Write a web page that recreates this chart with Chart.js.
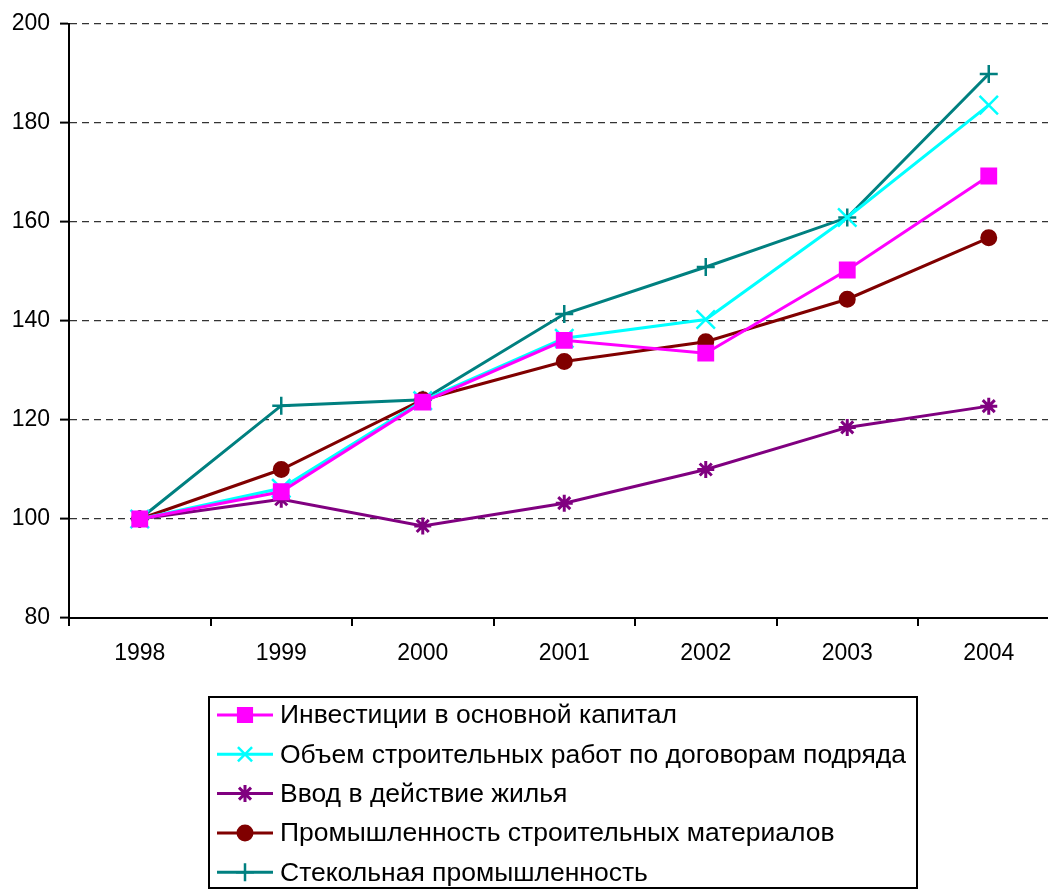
<!DOCTYPE html>
<html>
<head>
<meta charset="utf-8">
<script src="https://cdn.jsdelivr.net/npm/chart.js@4/dist/chart.umd.min.js"></script>
<style>
  html, body { margin: 0; padding: 0; background: #fff; overflow: hidden; }
  #wrap { width: 1075px; height: 891px; }
</style>
</head>
<body>
<div id="wrap"><canvas id="chart" width="1075" height="891"></canvas></div>
<script>
const years = ['1998', '1999', '2000', '2001', '2002', '2003', '2004'];
const yTicks = [80, 100, 120, 140, 160, 180, 200];

const investments = [100, 105.5, 123.6, 136.1, 133.5, 150.3, 169.3];
const constructionWorks = [100, 106.2, 123.9, 136.5, 140.3, 160.9, 183.6];
const housing = [100, 104.0, 98.6, 103.2, 110.0, 118.5, 122.8];
const buildingMaterials = [100, 110.0, 124.1, 131.8, 135.8, 144.4, 156.8];
const glassIndustry = [100, 122.9, 124.1, 141.4, 150.9, 160.9, 189.9];

const FONT = 'Arial, "Liberation Sans", sans-serif';

// рамка легенды внизу, как в оригинале
const boxLegend = {
  id: 'boxLegend',
  afterDraw(chart) {
    const ctx = chart.ctx;
    const left = 209, top = 697, width = 708, height = 191;
    ctx.save();
    ctx.strokeStyle = '#000';
    ctx.lineWidth = 2;
    ctx.strokeRect(left, top, width, height);
    ctx.font = '26.5px ' + FONT;
    ctx.textBaseline = 'middle';
    chart.data.datasets.forEach((ds, i) => {
      const y = 715 + i * 39.3;
      ctx.strokeStyle = ds.borderColor;
      ctx.lineWidth = 3;
      ctx.beginPath();
      ctx.moveTo(217, y);
      ctx.lineTo(273, y);
      ctx.stroke();
      ctx.fillStyle = ds.pointBackgroundColor;
      ctx.strokeStyle = ds.borderColor;
      ctx.lineWidth = ds.pointBorderWidth;
      Chart.helpers.drawPoint(ctx, {
        pointStyle: ds.pointStyle,
        radius: Math.min(ds.pointRadius, 10),
        rotation: 0,
        borderWidth: ds.pointBorderWidth
      }, 245, y);
      ctx.fillStyle = '#000';
      ctx.fillText(ds.label, 280, y + 1);
    });
    ctx.restore();
  }
};

function series(label, data, color, style, r, bw) {
  return {
    label: label,
    data: data,
    borderColor: color,
    backgroundColor: color,
    pointBackgroundColor: color,
    pointBorderColor: color,
    pointStyle: style,
    pointRadius: r,
    pointHoverRadius: r,
    pointBorderWidth: bw || 2,
    borderWidth: 3,
    tension: 0
  };
}

new Chart(document.getElementById('chart'), {
  type: 'line',
  data: {
    labels: years,
    datasets: [
      series('Инвестиции в основной капитал', investments, '#ff00ff', 'rect', 10.5),
      series('Объем строительных работ по договорам подряда', constructionWorks, '#00ffff', 'crossRot', 13, 2.5),
      series('Ввод в действие жилья', housing, '#800080', 'star', 8.5, 3),
      series('Промышленность строительных материалов', buildingMaterials, '#800000', 'circle', 7.5),
      series('Стекольная промышленность', glassIndustry, '#008080', 'cross', 9, 2.5)
    ]
  },
  options: {
    responsive: false,
    devicePixelRatio: 1,
    animation: false,
    layout: { padding: { top: 24, right: 0, bottom: 218, left: 0 } },
    plugins: {
      legend: { display: false },
      tooltip: { enabled: false }
    },
    scales: {
      x: {
        offset: true,
        afterFit(scale) {
          scale.height = 55;
          scale.paddingLeft = 0;
          scale.paddingRight = 0;
        },
        grid: {
          offset: true,
          drawOnChartArea: false,
          drawTicks: true,
          tickLength: 8,
          color: '#000',
          lineWidth: 2
        },
        border: { color: '#000', width: 2 },
        ticks: {
          color: '#000',
          padding: 14,
          maxRotation: 0,
          font: { family: FONT, size: 23 }
        }
      },
      y: {
        min: 80,
        max: 200,
        afterFit(scale) { scale.width = 69; },
        afterBuildTicks(scale) { scale.ticks = yTicks.map(v => ({ value: v })); },
        grid: {
          color: '#333',
          lineWidth: 1.2,
          tickColor: '#000',
          tickBorderDash: [],
          tickWidth: 2,
          tickLength: 9
        },
        border: { color: '#000', width: 2, dash: [7, 5] },
        ticks: {
          color: '#000',
          padding: 10,
          font: { family: FONT, size: 23 }
        }
      }
    }
  },
  plugins: [boxLegend]
});
</script>
</body>
</html>
